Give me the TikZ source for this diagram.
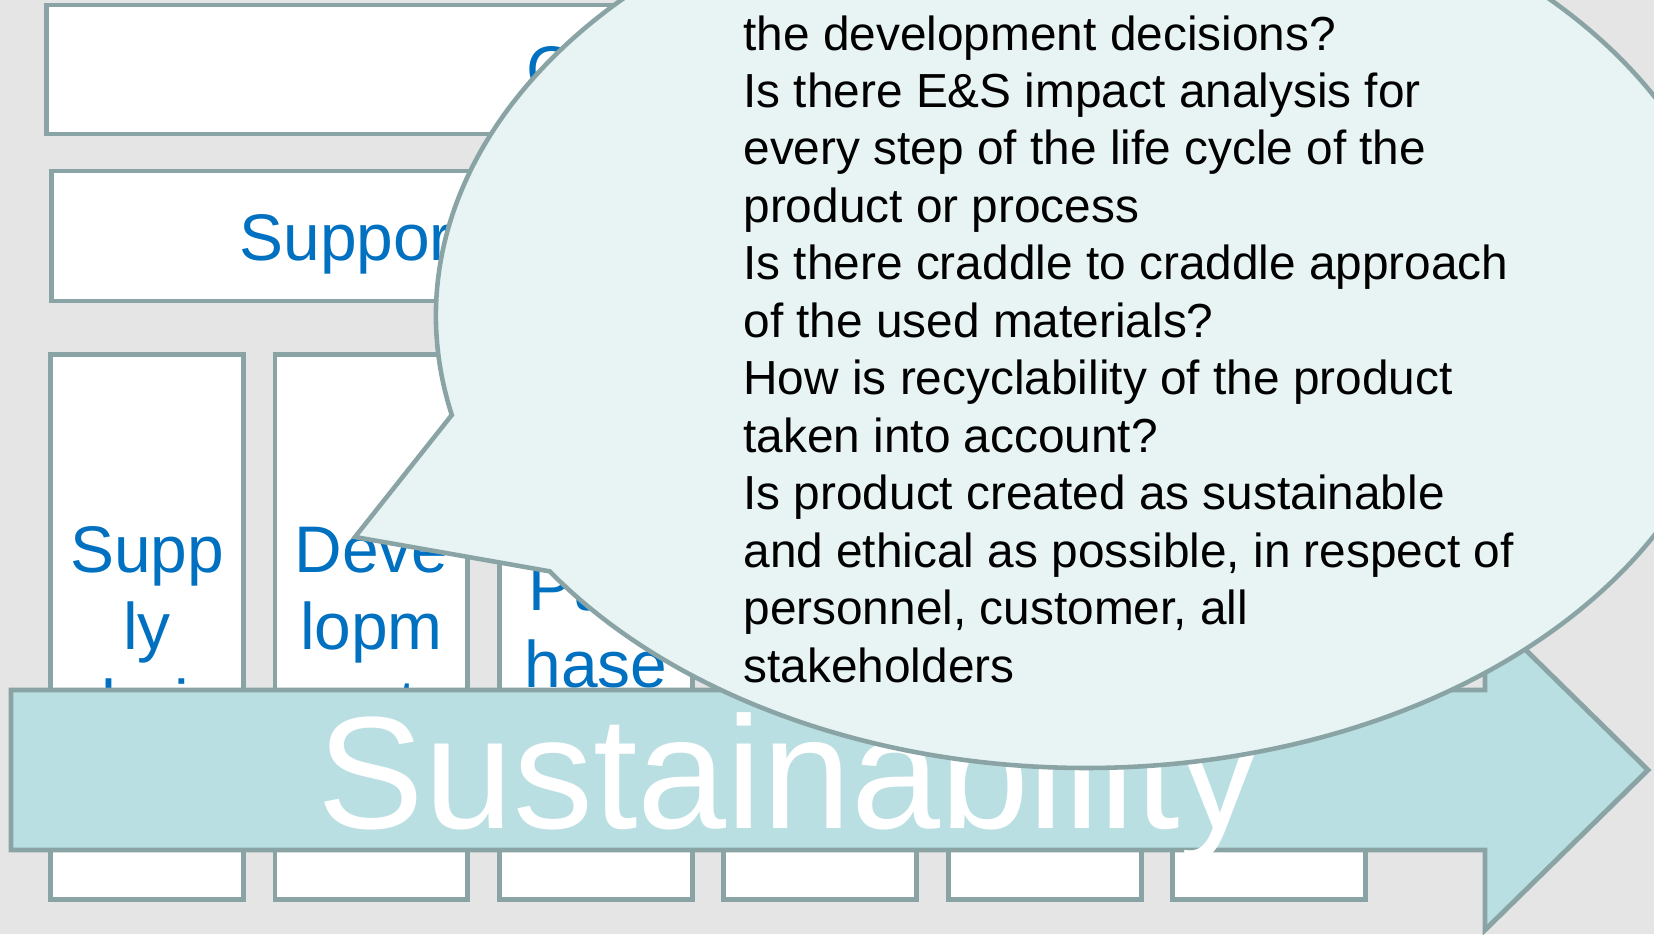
\documentclass[tikz,border=0pt]{standalone}
\usepackage{fontspec}
\setmainfont{Liberation Sans}
\usetikzlibrary{positioning}
\definecolor{bggray}{HTML}{E5E5E5}
\definecolor{edgegray}{HTML}{8AA4A6}
\definecolor{titleblue}{HTML}{0070C0}
\definecolor{arrowblue}{HTML}{BADFE2}
\definecolor{bubblefill}{HTML}{E8F4F4}
\begin{document}
\begin{tikzpicture}[
    x = 0.02cm, y = 0.02cm,
    line width = 2.8pt,
    node distance = 4.49cm,
    bar/.style = {draw = edgegray, fill = white, inner sep = 0pt},
    col/.style = {bar, minimum width = 3.86cm, minimum height = 10.92cm, align = center, text = titleblue, font = \fontsize{37.5}{44}\selectfont},
    blue label/.style = {inner sep = 0pt, text = titleblue, font = \fontsize{37.5}{44}\selectfont}
]
\clip (0,0) rectangle (1654,934);
\fill[bggray] (0,0) rectangle (1654,934);
\node[bar, minimum width = 26.44cm, minimum height = 2.58cm] (topbar) at (707,864.5) {};
\node[bar, minimum width = 26.34cm, minimum height = 2.6cm] (support) at (709.5,698) {};
\node[blue label, anchor = base west] (toptext) at (524,841) {C};
\node[blue label, anchor = base west] (supporttext) at (237,673.5) {Support};
\node[col] (supply) at (147,307) {Supp\\ly\\chain};
\node[col] (devel) [right of = supply] {Deve\\lopm\\ent};
\node[col] (purch) [right of = devel] {Purc\\hase};
\node[col] (colD) [right of = purch] {};
\node[col] (colE) [right of = colD] {};
\node[col] (colF) [right of = colE] {};
% big arrow
\draw[draw = edgegray, fill = arrowblue] (11,84) -- (11,244) -- (1485,244) -- (1485,324) -- (1648,164) -- (1485,4) -- (1485,84) -- cycle;
\node[anchor = base, inner sep = 0pt, text = white, font = \fontsize{91}{104}\selectfont] (sust) at (789,106) {Sustainability};
% callout
\coordinate (bubblec) at (1086,618);
\coordinate (tip) at (355,397);
\draw[draw = edgegray, fill = bubblefill, line width = 2.6pt] (tip) -- ([shift = {(192.65:650 and 452)}]bubblec) arc[start angle = 192.65, end angle = -145.6, x radius = 650, y radius = 452] -- cycle;
\node[anchor = north west, inner sep = 0pt, align = left, font = \fontsize{27.2}{32.7}\selectfont] (questions) at (741,921) {the development decisions?\\
Is there E\&S impact analysis for\\
every step of the life cycle of the\\
product or process\\
Is there craddle to craddle approach\\
of the used materials?\\
How is recyclability of the product\\
taken into account?\\
Is product created as sustainable\\
and ethical as possible, in respect of\\
personnel, customer, all\\
stakeholders};
\end{tikzpicture}
\end{document}
